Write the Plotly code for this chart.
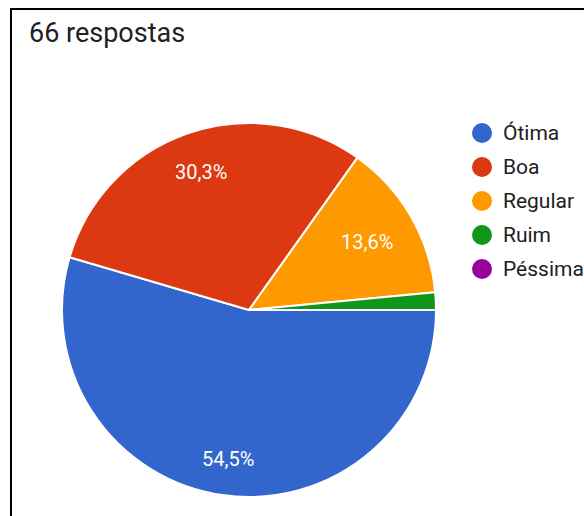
import math
import plotly.graph_objects as go

title_text = "66 respostas"
categories = ["Ótima", "Boa", "Regular", "Ruim", "Péssima"]
values = [36, 20, 9, 1, 0]
colors = ["#3366CC", "#DC3912", "#FF9900", "#109618", "#990099"]

W, H = 584, 516
cx, cy, R = 249, 310, 187

fig = go.Figure()
fig.add_trace(go.Pie(
    labels=categories, values=values, sort=False, direction="clockwise",
    rotation=90, textinfo="none", hoverinfo="label+percent",
    marker=dict(colors=colors, line=dict(color="white", width=2)),
    domain=dict(x=[(cx - R) / W, (cx + R) / W], y=[1 - (cy + R) / H, 1 - (cy - R) / H]),
    showlegend=False,
))

annotations = []
shapes = []
total = sum(values)
start = 90.0  # degrees clockwise from 12 o'clock
for v in values:
    span = v / total * 360
    pct = v / total * 100
    if pct >= 5:
        label = f"{pct:.1f}%".replace(".", ",")
        mid = math.radians(start + span / 2)
        s, c = math.sin(mid), math.cos(mid)
        hw, hh = 10.6 * len(label) / 2, 10
        rr = 0.877 * R - (hw * abs(s) + hh * abs(c))
        px = cx + rr * s
        py = cy - rr * c
        annotations.append(dict(
            x=px / W, y=1 - py / H, xref="paper", yref="paper",
            text=label, showarrow=False,
            font=dict(family="Roboto", size=20, color="white"),
            xanchor="center", yanchor="middle"))
    start += span

# legend
for i, (cat, col) in enumerate(zip(categories, colors)):
    ly = 133 + i * 34
    shapes.append(dict(type="circle", xref="paper", yref="paper",
                       x0=(482 - 10) / W, x1=(482 + 10) / W,
                       y0=1 - (ly + 10) / H, y1=1 - (ly - 10) / H,
                       fillcolor=col, line=dict(width=0)))
    annotations.append(dict(x=501 / W, y=1 - ly / H, xref="paper", yref="paper",
                            text=cat, showarrow=False, xanchor="left", yanchor="middle",
                            font=dict(family="Roboto", size=21, color="#212121")))

# title
annotations.append(dict(x=27 / W, y=1 - 33 / H, xref="paper", yref="paper",
                        text=title_text, showarrow=False, xanchor="left", yanchor="middle",
                        font=dict(family="Roboto", size=27, color="#202124")))

# frame
shapes.append(dict(type="line", xref="paper", yref="paper", x0=11 / W, x1=11 / W,
                   y0=0, y1=1 - 8 / H, line=dict(color="black", width=2)))
shapes.append(dict(type="line", xref="paper", yref="paper", x0=10 / W, x1=1,
                   y0=1 - 9 / H, y1=1 - 9 / H, line=dict(color="black", width=2)))

fig.update_layout(
    width=W, height=H, margin=dict(l=0, r=0, t=0, b=0),
    paper_bgcolor="white", plot_bgcolor="white",
    annotations=annotations, shapes=shapes,
)
fig.write_html("out.html", config={"displayModeBar": False},
               post_script="document.body.style.margin='0px';document.body.style.overflow='hidden';")
